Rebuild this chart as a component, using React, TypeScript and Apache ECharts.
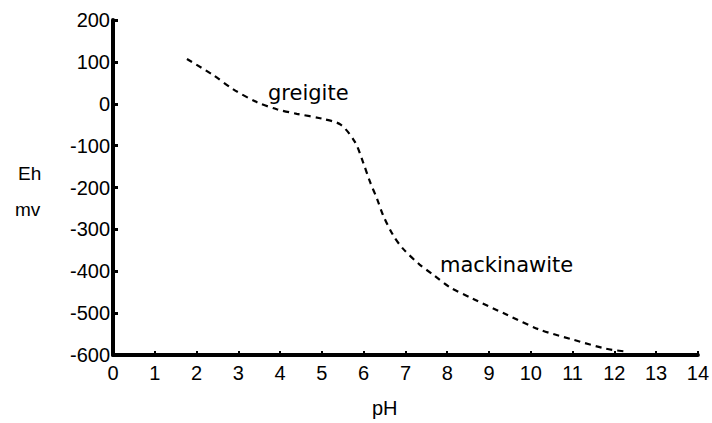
import React, { useEffect, useRef } from "react";
import * as echarts from "echarts";

const pH = [1.77, 2.39, 2.87, 3.44, 3.92, 4.4, 5.02, 5.45, 5.79, 5.98, 6.15, 6.32, 6.46, 6.7, 6.94, 7.34, 7.66, 8.06, 8.6, 9.43, 10.2, 11.0, 11.8, 12.3];
const eh = [107, 69, 35, 4, -13, -24, -36, -50, -91, -138, -186, -227, -265, -313, -346, -384, -408, -438, -465, -504, -539, -563, -585, -592];
const xTicks = [0, 14, 1];
const yTicks = [-600, 200, 100];

const FONT = "Liberation Sans, Arial, sans-serif";

export default function App() {
  const ref = useRef<HTMLDivElement>(null);
  useEffect(() => {
    const chart = echarts.init(ref.current!, null, { renderer: "svg" });
    chart.setOption({
      animation: false,
      backgroundColor: "#fff",
      grid: { left: 113, right: 14, top: 20, bottom: 68 },
      xAxis: {
        type: "value",
        min: xTicks[0],
        max: xTicks[1],
        interval: xTicks[2],
        axisLine: { onZero: false, lineStyle: { color: "#000", width: 4 } },
        axisTick: { inside: true, length: 4, lineStyle: { color: "#000", width: 2 } },
        splitLine: { show: false },
        axisLabel: { color: "#000", fontSize: 20, fontFamily: FONT, margin: 8 },
      },
      yAxis: {
        type: "value",
        min: yTicks[0],
        max: yTicks[1],
        interval: yTicks[2],
        axisLine: { onZero: false, lineStyle: { color: "#000", width: 4 } },
        axisTick: { inside: true, length: 5, lineStyle: { color: "#000", width: 3 } },
        splitLine: { show: false },
        axisLabel: { color: "#000", fontSize: 20, fontFamily: FONT, margin: 3 },
      },
      series: [
        {
          type: "line",
          data: pH.map((x, i) => [x, eh[i]]),
          smooth: 0.3,
          showSymbol: false,
          lineStyle: { color: "#000", width: 2.2, type: [6, 5] },
        },
      ],
      graphic: [
        { type: "text", left: 268, top: 82, style: { text: "greigite", font: "21px DejaVu Sans, sans-serif", fill: "#000" } },
        { type: "text", left: 440, top: 254, style: { text: "mackinawite", font: "21px DejaVu Sans, sans-serif", fill: "#000" } },
        { type: "text", left: 18, top: 164, style: { text: "Eh", font: "19px " + FONT, fill: "#000" } },
        { type: "text", left: 15, top: 200, style: { text: "mv", font: "19px " + FONT, fill: "#000" } },
        { type: "text", left: 372, top: 398, style: { text: "pH", font: "20px " + FONT, fill: "#000" } },
      ],
    });
    return () => chart.dispose();
  }, []);
  return <div ref={ref} style={{ width: 712, height: 423, position: "absolute", left: 0, top: 0 }} />;
}
